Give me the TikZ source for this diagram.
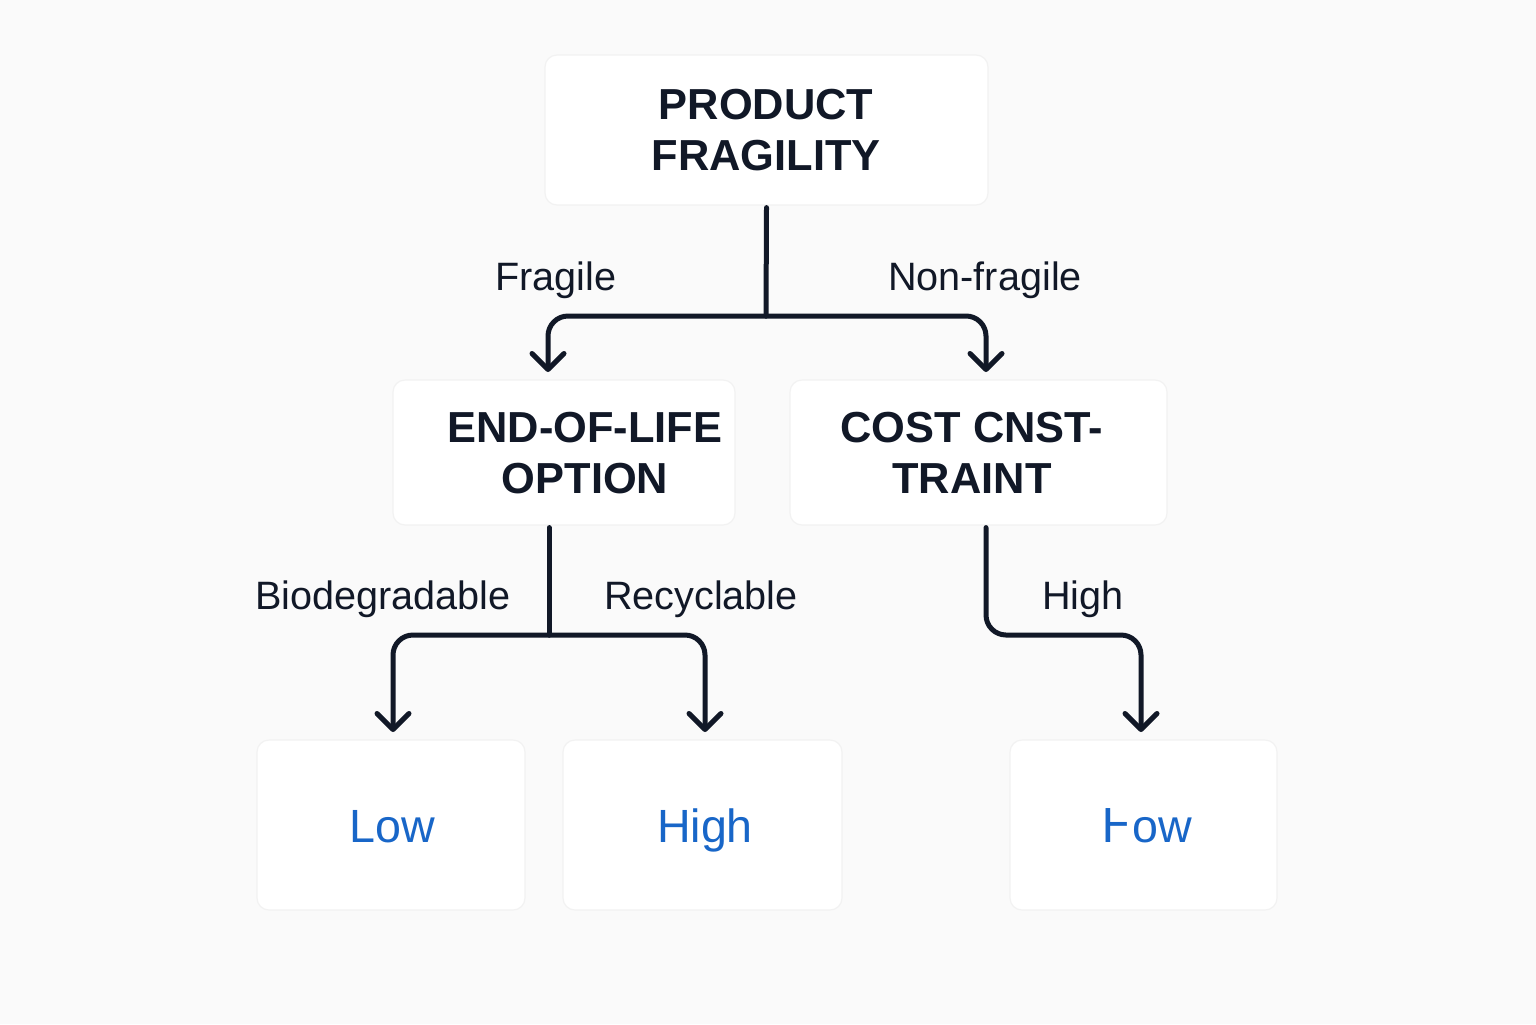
\documentclass[tikz,border=0pt]{standalone}
\usepackage{fontspec}
\setmainfont{Liberation Sans}
\newfontfamily\dejavu{DejaVu Sans}
\usetikzlibrary{arrows.meta}
\definecolor{bg}{RGB}{250,250,250}
\definecolor{ink}{RGB}{17,24,39}
\definecolor{blu}{RGB}{24,102,200}
\definecolor{edge}{RGB}{242,242,242}
\begin{document}
\begin{tikzpicture}[x=0.5pt,y=-0.5pt,
  box/.style={draw=edge, line width=0.6pt, fill=white, rounded corners=6pt, inner sep=0},
  head/.style={font=\bfseries\fontsize{21.7}{25.5}\selectfont, text=ink, align=center, inner sep=0},
  lab/.style={font=\fontsize{19.8}{23}\selectfont, text=ink, anchor=base, inner sep=0},
  res/.style={font=\fontsize{23.3}{27}\selectfont, text=blu, anchor=base, inner sep=0},
  trunk/.style={draw=ink, line width=2.5pt, line cap=round, line join=round},
  conn/.style={trunk, rounded corners=10pt, -{Straight Barb[length=8pt,width=16pt,line cap=round,line join=round]}}
]
\useasboundingbox (0,0) rectangle (1536,1024);
\fill[bg] (0,0) rectangle (1536,1024);

% boxes
\node[box, minimum width=221.5pt, minimum height=75pt] (top) at (766.5,130) {};
\node[box, minimum width=171pt, minimum height=72.5pt] (eol) at (564,452.5) {};
\node[box, minimum width=188.5pt, minimum height=72.5pt] (cost) at (978.5,452.5) {};
\node[box, minimum width=134pt, minimum height=85pt] (low) at (391,825) {};
\node[box, minimum width=139.5pt, minimum height=85pt] (high) at (702.5,825) {};
\node[box, minimum width=133.5pt, minimum height=85pt] (low2) at (1143.5,825) {};

% box texts
\node[head] (topt) at (766,130) {PRODUCT\\FRAGILITY};
\node[head] (eolt) at (585,453) {END-OF-LIFE\\OPTION};
\node[head] (costt) at (972,453) {COST CNST-\\TRAINT};
\node[res] (lowt) at (392,842) {Low};
\node[res] (hight) at (705,842) {High};
\node[res] (low2t) at (1147,842) {{\dejavu Ⱶ}ow};

% junctions and arrow ends
\coordinate (j1) at (766,316);
\coordinate (a1) at (548,372);
\coordinate (a2) at (986,372);
\coordinate (j2) at (549,635);
\coordinate (a3) at (393,732);
\coordinate (a4) at (705,732);
\coordinate (c3) at (986,635);
\coordinate (a5) at (1141,732);

% connectors
\draw[trunk] ([yshift=-1pt]top.south) -- (j1);
\draw[conn] (j1) -| (a1);
\draw[conn] (j1) -| (a2);
\draw[trunk] ([yshift=-1pt]eol.south -| j2) -- (j2);
\draw[conn] (j2) -| (a3);
\draw[conn] (j2) -| (a4);
\draw[conn] ([yshift=-1pt]cost.south -| c3) -- (c3) -| (a5);

% labels
\node[lab] (lfr) at (556,290) {Fragile};
\node[lab] (lnf) at (985,290) {Non-fragile};
\node[lab] (lbio) at (383,609) {Biodegradable};
\node[lab] (lrec) at (701,609) {Recyclable};
\node[lab] (lhigh) at (1083,609) {High};
\end{tikzpicture}
\end{document}
